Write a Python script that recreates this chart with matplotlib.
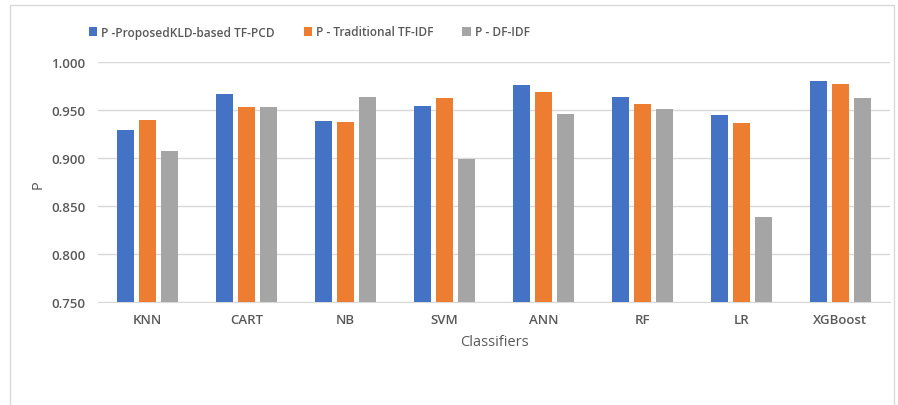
import numpy as np
import matplotlib.pyplot as plt
from matplotlib.patches import Rectangle

classifiers = ["KNN", "CART", "NB", "SVM", "ANN", "RF", "LR", "XGBoost"]
p_kld = [0.929, 0.967, 0.939, 0.954, 0.976, 0.964, 0.945, 0.980]
p_tfidf = [0.940, 0.953, 0.938, 0.963, 0.969, 0.956, 0.936, 0.977]
p_dfidf = [0.907, 0.953, 0.964, 0.899, 0.946, 0.951, 0.839, 0.963]
series_names = ["P -ProposedKLD-based TF-PCD", "P - Traditional TF-IDF", "P - DF-IDF"]
colors = ["#4472C4", "#ED7D31", "#A5A5A5"]

plt.rcParams['font.family'] = ['Open Sans', 'DejaVu Sans']

W, H = 898, 406
fig = plt.figure(figsize=(W / 100, H / 100), dpi=100)
ax = fig.add_axes([98 / W, 1 - 303 / H, (890 - 98) / W, (303 - 63) / H])

x = np.arange(len(classifiers))
width = 0.172
step = 0.222
for i, (vals, name, c) in enumerate(zip([p_kld, p_tfidf, p_dfidf], series_names, colors)):
    ax.bar(x + (i - 1) * step, np.array(vals) - 0.75, width, bottom=0.75,
           color=c, label=name, zorder=3)

ax.set_xlim(-0.5, len(classifiers) - 0.5)
ax.set_ylim(0.75, 1.0)
ax.set_yticks(np.arange(0.75, 1.0001, 0.05))
ax.set_yticklabels([f"{v:.3f}" for v in np.arange(0.75, 1.0001, 0.05)])
ax.set_xticks(x)
ax.set_xticklabels(classifiers)
ax.grid(axis='y', color='#D9D9D9', linewidth=1, zorder=0)
for s in ['top', 'right', 'left']:
    ax.spines[s].set_visible(False)
ax.spines['bottom'].set_color('#D9D9D9')
ax.tick_params(axis='both', length=0, labelcolor='#595959', labelsize=9.5)
ax.tick_params(axis='x', pad=8)
ax.tick_params(axis='y', pad=9)
for lbl in ax.get_xticklabels() + ax.get_yticklabels():
    lbl.set_fontweight('semibold')

ax.set_xlabel("Classifiers", color='#595959', fontsize=10.5, labelpad=6)
fig.text(38 / W, 1 - 185 / H, "P", rotation=90, color='#595959', fontsize=10.5,
         ha='center', va='center')

ax.legend(loc='center left', bbox_to_anchor=(78 / W, (H - 33) / H), bbox_transform=fig.transFigure,
          ncol=3, frameon=False, handlelength=0.7, handleheight=0.7,
          columnspacing=2.4, handletextpad=0.35, labelcolor='#595959',
          prop={'weight': 'semibold', 'size': 8.6})

# light frame around the chart area
fig.patches.append(Rectangle((10 / W, -0.05), (W - 14) / W, 1 - 6 / H + 0.05,
                             transform=fig.transFigure, fill=False,
                             edgecolor='#D9D9D9', linewidth=1))

fig.savefig("out.png", dpi=100)
